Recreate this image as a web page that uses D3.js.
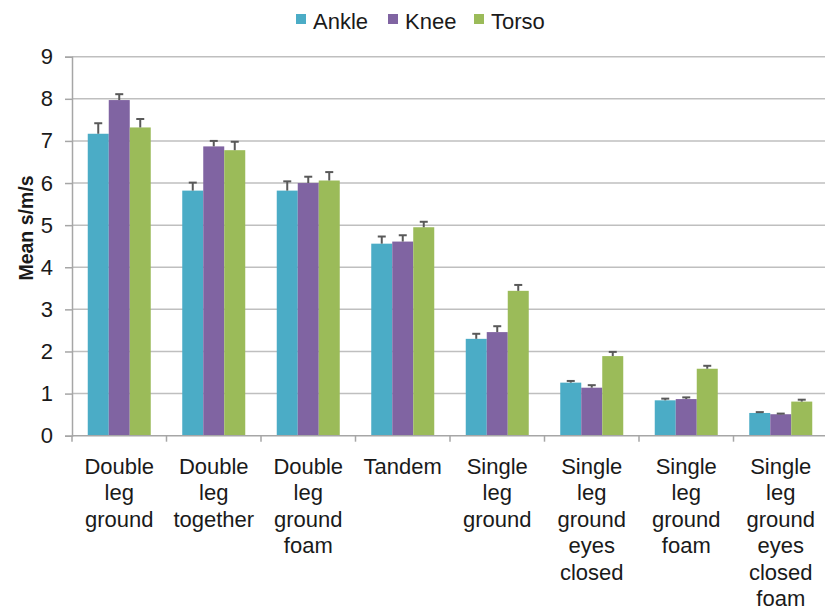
<!DOCTYPE html>
<html>
<head>
<meta charset="utf-8">
<script src="https://cdn.jsdelivr.net/npm/d3@7"></script>
<style>
  html, body { margin: 0; padding: 0; background: #fff; }
  svg { display: block; font-family: "Liberation Sans", Arial, sans-serif; }
</style>
</head>
<body>
<svg id="chart" width="825" height="610"></svg>
<script>
const categories = [
  ["Double", "leg", "ground"],
  ["Double", "leg", "together"],
  ["Double", "leg", "ground", "foam"],
  ["Tandem"],
  ["Single", "leg", "ground"],
  ["Single", "leg", "ground", "eyes", "closed"],
  ["Single", "leg", "ground", "foam"],
  ["Single", "leg", "ground", "eyes", "closed", "foam"]
];
const seriesNames = ["Ankle", "Knee", "Torso"];
const seriesColors = ["#4BACC6", "#8064A2", "#9BBB59"];
const ankle = [7.17, 5.82, 5.82, 4.56, 2.30, 1.26, 0.84, 0.54];
const knee  = [7.97, 6.87, 6.00, 4.61, 2.46, 1.14, 0.87, 0.51];
const torso = [7.32, 6.78, 6.06, 4.95, 3.44, 1.89, 1.59, 0.81];
const ankleErr = [0.25, 0.19, 0.22, 0.17, 0.12, 0.04, 0.04, 0.02];
const kneeErr  = [0.14, 0.13, 0.15, 0.15, 0.14, 0.06, 0.04, 0.015];
const torsoErr = [0.20, 0.20, 0.20, 0.13, 0.14, 0.10, 0.07, 0.045];
const yTicks = [0, 1, 2, 3, 4, 5, 6, 7, 8, 9];

const values = [ankle, knee, torso];
const errors = [ankleErr, kneeErr, torsoErr];

const svg = d3.select("#chart");
const plotLeft = 72, plotRight = 828, plotTop = 56.7, plotBottom = 435.7;

const x0 = d3.scaleBand().domain(d3.range(categories.length)).range([plotLeft, plotRight]).padding(0);
const x1 = d3.scaleBand().domain(d3.range(seriesNames.length))
  .range([x0.bandwidth() / 6, x0.bandwidth() * 5 / 6]).padding(0);
const y = d3.scaleLinear().domain([0, 9]).range([plotBottom, plotTop]);

// gridlines
svg.append("g").selectAll("line").data(yTicks.filter(d => d > 0)).join("line")
  .attr("x1", plotLeft).attr("x2", 825)
  .attr("y1", d => y(d)).attr("y2", d => y(d))
  .attr("stroke", "#BFBFBF").attr("stroke-width", 1.5);

// y axis
const yAxis = d3.axisLeft(y).tickValues(yTicks).tickSize(7).tickPadding(12).tickFormat(d3.format("d"));
const yg = svg.append("g").attr("transform", `translate(${plotLeft},0)`).call(yAxis);
yg.select(".domain").attr("stroke", "#A6A6A6").attr("stroke-width", 1.5);
yg.selectAll(".tick line").attr("stroke", "#A6A6A6").attr("stroke-width", 1.5);
yg.selectAll(".tick text").attr("font-size", 22).attr("fill", "#1a1a1a")
  .attr("font-family", "Liberation Sans, Arial, sans-serif");

// bars
const groups = svg.append("g").selectAll("g").data(categories).join("g")
  .attr("transform", (d, i) => `translate(${x0(i)},0)`);

groups.each(function(cat, ci) {
  const g = d3.select(this);
  seriesNames.forEach((s, si) => {
    const v = values[si][ci];
    g.append("rect")
      .attr("x", x1(si)).attr("width", x1.bandwidth())
      .attr("y", y(v)).attr("height", y(0) - y(v))
      .attr("fill", seriesColors[si]);
  });
  seriesNames.forEach((s, si) => {
    const v = values[si][ci], e = errors[si][ci];
    const cx = x1(si) + x1.bandwidth() / 2;
    g.append("line").attr("x1", cx).attr("x2", cx)
      .attr("y1", y(v)).attr("y2", y(v + e))
      .attr("stroke", "#595959").attr("stroke-width", 2);
    g.append("line").attr("x1", cx - 4).attr("x2", cx + 4)
      .attr("y1", y(v + e)).attr("y2", y(v + e))
      .attr("stroke", "#595959").attr("stroke-width", 2);
  });
});

// x axis line and ticks
svg.append("line").attr("x1", plotLeft).attr("x2", 825).attr("y1", plotBottom).attr("y2", plotBottom)
  .attr("stroke", "#A6A6A6").attr("stroke-width", 1.5);
svg.append("g").selectAll("line").data(d3.range(categories.length + 1)).join("line")
  .attr("x1", i => plotLeft + i * x0.bandwidth()).attr("x2", i => plotLeft + i * x0.bandwidth())
  .attr("y1", plotBottom).attr("y2", plotBottom + 6)
  .attr("stroke", "#A6A6A6").attr("stroke-width", 1.5);

// x labels
const lab = svg.append("g").selectAll("text").data(categories).join("text")
  .attr("text-anchor", "middle").attr("font-size", 22).attr("fill", "#1a1a1a")
  .attr("transform", (d, i) => `translate(${x0(i) + x0.bandwidth() / 2},474)`);
lab.selectAll("tspan").data(d => d).join("tspan")
  .attr("x", 0).attr("y", (d, i) => i * 26.4).text(d => d);

// y title
svg.append("text").attr("transform", "translate(33,228) rotate(-90)")
  .attr("text-anchor", "middle").attr("font-size", 19.5).attr("font-weight", "bold")
  .attr("fill", "#1a1a1a").text("Mean s/m/s");

// legend
const legX = [296, 388, 474];
const leg = svg.append("g").selectAll("g").data(seriesNames).join("g")
  .attr("transform", (d, i) => `translate(${legX[i]},0)`);
leg.append("rect").attr("x", 0).attr("y", 14).attr("width", 10).attr("height", 10)
  .attr("fill", (d, i) => seriesColors[i]);
leg.append("text").attr("x", 17).attr("y", 29).attr("font-size", 22).attr("fill", "#1a1a1a")
  .text(d => d);
</script>
</body>
</html>
